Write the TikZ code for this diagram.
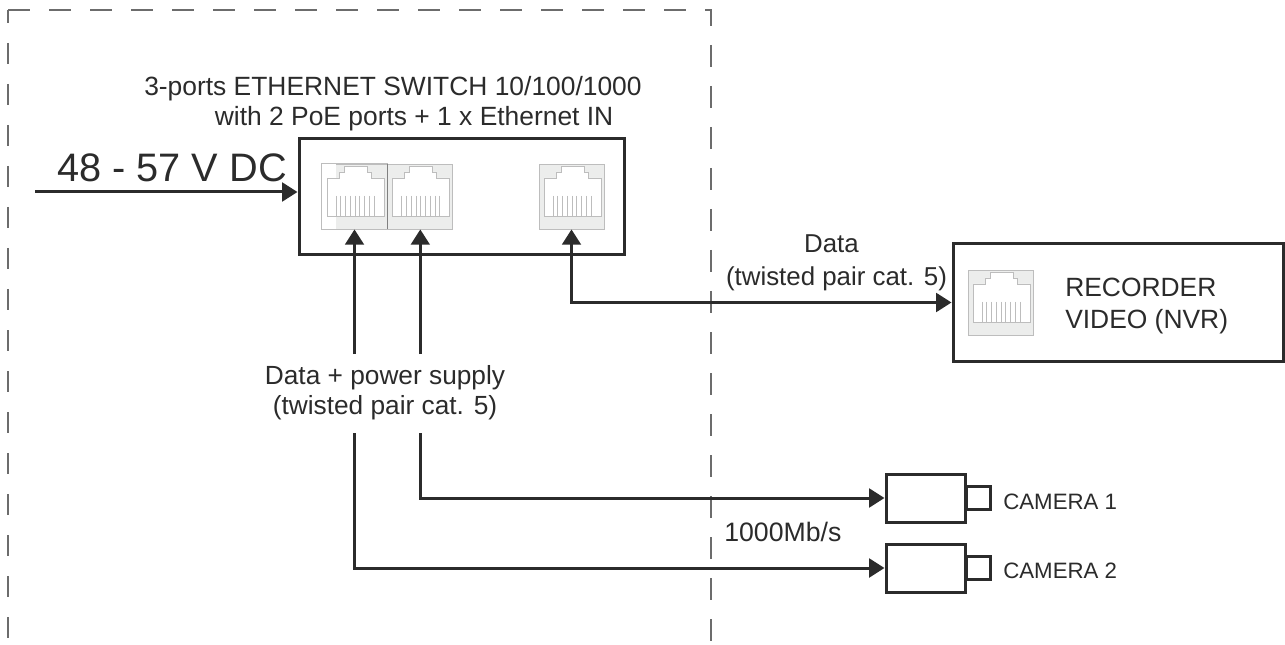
\documentclass[tikz,border=0pt]{standalone}
\usepackage{fontspec}
\setmainfont{Liberation Sans}
\usetikzlibrary{arrows.meta, positioning}
\definecolor{inkdark}{HTML}{2B2B2B}
\definecolor{portgray}{HTML}{ECEDEC}
\definecolor{portline}{HTML}{BDBDBD}
\tikzset{
  box node/.style={draw=inkdark,line width=2.25pt,fill=white,inner sep=0pt},
  label node/.style={text=inkdark,inner sep=0pt,align=center},
  port node/.style={draw=portline,line width=0.6pt,fill=portgray,inner sep=0pt,minimum width=48.75pt,minimum height=48.75pt},
  conn/.style={draw=inkdark,line width=2.25pt,>={Triangle[length=11.5pt,width=14pt]}},
  rj45/.pic={
    \draw[portline,line width=0.6pt,fill=white] (-27.5,19.5) -- (-27.5,-18.5) -- (-15.5,-18.5) -- (-15.5,-24.5)
      -- (-10.5,-24.5) -- (-10.5,-30.5) -- (12.5,-30.5) -- (12.5,-24.5) -- (16.5,-24.5) -- (16.5,-18.5)
      -- (29.5,-18.5) -- (29.5,19.5) -- cycle;
    \foreach \i in {0,...,8}
      \draw[portline,line width=0.5pt] (-18.5+4.75*\i,-0.5) -- (-18.5+4.75*\i,19.5);
  }
}
\begin{document}
\begin{tikzpicture}[x=0.75pt,y=-0.75pt]
  \useasboundingbox (0,0) rectangle (1285,645);
  % protected area
  \draw[gray!85!black,line width=1.1pt,dash pattern=on 16.5pt off 14.25pt] (8,10) -- (711,10) -- (711,641);
  \draw[gray!85!black,line width=0.8pt,dash pattern=on 15.75pt off 15pt,dash phase=6pt] (8,10) -- (8,641);
  % switch
  \node[box node,minimum width=243.75pt,minimum height=87pt] (switch) at (461.5,196.5) {};
  \node[port node] (port1) at (354.5,196.5) {};
  \fill[white] (port1.north west) rectangle ([xshift=10.5pt]port1.south west);
  \draw[portline,line width=0.6pt] (port1.north west) rectangle (port1.south east);
  \pic at (port1) {rj45};
  \node[port node,right=0pt of port1] (port2) {};
  \pic at (port2) {rj45};
  \draw[gray,line width=0.7pt] (port1.north east) -- (port1.south east);
  \node[port node] (port3) at (571.5,196.5) {};
  \pic at (port3) {rj45};
  % recorder
  \node[box node,minimum width=247.5pt,minimum height=87.75pt] (recorder) at (1118,302.5) {};
  \node[port node] (port4) at (1000.5,302.5) {};
  \pic at (port4) {rj45};
  % cameras
  \node[box node,minimum width=59.25pt,minimum height=36pt] (cam1) at (925.5,498) {};
  \node[box node,minimum width=18pt,minimum height=17.25pt,right=-1.1pt of cam1] (lens1) {};
  \node[box node,minimum width=59.25pt,minimum height=36pt] (cam2) at (925.5,568) {};
  \node[box node,minimum width=18pt,minimum height=17.25pt,right=-1.1pt of cam2] (lens2) {};
  % labels
  \node[label node,align=left,font=\fontsize{19.8pt}{22.5pt}\selectfont,anchor=west] (title) at (144,104)
    {3-ports ETHERNET SWITCH 10/100/1000\\\hspace*{53pt}with 2 PoE ports + 1 x Ethernet IN};
  \node[label node,font=\fontsize{29.8pt}{30pt}\selectfont,anchor=west] (dc) at (57,168) {48 - 57 V DC};
  \node[label node,font=\fontsize{19.7pt}{22.5pt}\selectfont] (datapsu) at (385,393) {Data + power supply\\(twisted pair cat. 5)};
  \node[label node,font=\fontsize{19.4pt}{24.5pt}\selectfont] (data) at (836.5,263) {Data\hspace*{7.5pt}\\(twisted pair cat. 5)};
  \node[label node,font=\fontsize{19.8pt}{24pt}\selectfont,align=left,anchor=west] (reclabel) at (1065,306) {RECORDER\\VIDEO (NVR)};
  \node[label node,font=\fontsize{20pt}{18pt}\selectfont,anchor=west] (speed) at (724,532) {1000Mb/s};
  \node[label node,font=\fontsize{16.7pt}{16pt}\selectfont,anchor=west] (cam1label) at (1003,502) {CAMERA 1};
  \node[label node,font=\fontsize{16.7pt}{16pt}\selectfont,anchor=west] (cam2label) at (1003,571) {CAMERA 2};
  % connectors
  \coordinate (dcin) at (35,192);
  \coordinate (psutop) at (385,354);
  \coordinate (psubottom) at (385,433);
  \draw[conn,->] (dcin) -- (dcin -| switch.west);
  \draw[conn,->] (psutop -| port1.south) -- (port1.south);
  \draw[conn,->] (psutop -| port2.south) -- (port2.south);
  \draw[conn,<->] (port3.south) |- (recorder.west);
  \draw[conn,->] (psubottom -| port2.south) |- (cam1.west);
  \draw[conn,->] (psubottom -| port1.south) |- (cam2.west);
\end{tikzpicture}
\end{document}
